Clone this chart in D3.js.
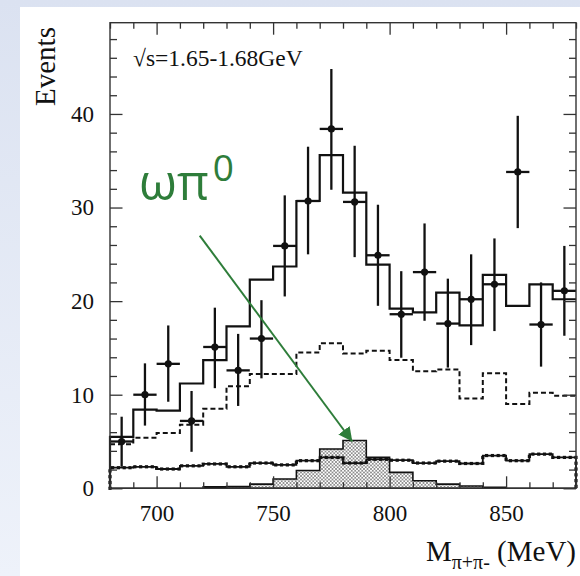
<!DOCTYPE html>
<html><head><meta charset="utf-8">
<script src="https://cdn.jsdelivr.net/npm/d3@7"></script>
<style>html,body{margin:0;padding:0;overflow:hidden;}svg{display:block;}</style>
</head><body>
<svg id="c" width="580" height="576"></svg>
<script>
// ---- data ----
const binStarts = [680,690,700,710,720,730,740,750,760,770,780,790,800,810,820,830,840,850,860,870];
const binWidth = 10;
const dataVals = [5.0,10.0,13.3,7.2,15.1,12.6,16.0,25.9,30.7,38.4,30.6,24.9,18.6,23.1,17.6,20.2,21.8,33.8,17.5,21.1];
const errLow  = [2.3,6.7,9.25,3.9,10.7,8.8,11.75,20.5,25.0,31.9,24.7,19.5,13.95,17.9,12.9,15.3,16.8,27.8,13.0,16.3];
const errHigh = [7.65,13.35,17.4,10.4,19.3,16.5,20.1,31.3,36.5,44.8,36.6,30.3,23.2,28.3,22.4,25.0,26.7,39.8,22.0,25.9];
const totalFit = [5.5,8.4,8.3,11.2,13.7,17.3,22.3,23.7,30.7,35.6,31.6,23.9,19.2,18.8,20.9,17.4,22.8,19.5,21.8,20.2];
const dashedBkg = [4.7,5.4,5.9,6.8,8.5,10.9,12.2,12.2,14.5,15.5,14.4,14.7,13.7,12.5,12.7,9.6,12.3,9.0,10.2,9.9];
const dottedBkg = [2.2,2.3,2.06,2.4,2.6,2.3,2.7,2.5,2.95,3.3,2.7,3.1,3.0,2.7,2.9,2.65,3.5,2.95,3.65,3.3];
const omegaPi0 = [0,0,0,0,0.15,0.2,0.45,1.0,1.9,4.2,5.1,3.3,1.7,0.8,0.45,0.25,0.1,0,0,0];
const xMajorTicks = [700,750,800,850];
const yMajorTicks = [0,10,20,30,40];
const titleText = "\u221As=1.65-1.68GeV";
const yLabel = "Events";
const annotLabel = "\u03C9\u03C0";
const annotSup = "0";
const arrowFrom = [718.5, 27.0];
const arrowTo = [784, 5.0];

// ---- scales ----
const svg = d3.select("#c");
const x = d3.scaleLinear().domain([680,880]).range([110,576]);
const y = d3.scaleLinear().domain([0,49.75]).range([488.3,22.7]);

// background
const defs = svg.append("defs");
const bg = defs.append("linearGradient").attr("id","bg").attr("x1",0).attr("y1",0).attr("x2",0).attr("y2",1);
bg.append("stop").attr("offset","0%").attr("stop-color","#dbe2f1");
bg.append("stop").attr("offset","100%").attr("stop-color","#eef2fa");
svg.append("rect").attr("width",580).attr("height",576).attr("fill","url(#bg)");
svg.append("rect").attr("x",20).attr("y",7).attr("width",560).attr("height",569).attr("fill","#fff");

// hatch pattern
const pat = defs.append("pattern").attr("id","hatch").attr("patternUnits","userSpaceOnUse").attr("width",3.5).attr("height",3.5);
pat.append("rect").attr("width",3.5).attr("height",3.5).attr("fill","#fff");
pat.append("path").attr("d","M0,0L3.5,3.5M3.5,0L0,3.5").attr("stroke","#7a7a7a").attr("stroke-width",0.75);

const edges = binStarts.concat([binStarts[binStarts.length-1]+binWidth]);
function stepPts(vals){ return edges.map((e,i)=>[e, vals[Math.min(i, vals.length-1)]]); }
const stepLine = d3.line().x(d=>x(d[0])).y(d=>y(d[1])).curve(d3.curveStepAfter);

// hatched omega pi0
const area = d3.area().x(d=>x(d[0])).y0(y(0)).y1(d=>y(d[1])).curve(d3.curveStepAfter);
svg.append("path").attr("d",area(stepPts(omegaPi0))).attr("fill","url(#hatch)").attr("stroke","#111").attr("stroke-width",1.6);

// dotted background (line with markers)
const dotPts = [[680,0]].concat(stepPts(dottedBkg)).concat([[880,0]]);
const dotLine = d3.line().x(d=>x(d[0])).y(d=>y(d[1]));
const dotPathPts = [];
dotPts.forEach((p,i)=>{
  if(i>1 && i<dotPts.length-1){ dotPathPts.push([p[0], dotPts[i-1][1]]); }
  dotPathPts.push(p);
});
const dp = svg.append("path").attr("d",dotLine(dotPathPts)).attr("fill","none").attr("stroke","#111").attr("stroke-width",1.8);
const L = dp.node().getTotalLength();
const gDots = svg.append("g");
for(let s=0; s<=L; s+=5.8){
  const pt = dp.node().getPointAtLength(s);
  gDots.append("rect").attr("x",pt.x-1.6).attr("y",pt.y-1.6).attr("width",3.2).attr("height",3.2).attr("fill","#111");
}

// dashed
svg.append("path").attr("d",stepLine(stepPts(dashedBkg))).attr("fill","none").attr("stroke","#111").attr("stroke-width",2).attr("stroke-dasharray","5,3");
// total fit
svg.append("path").attr("d",stepLine([[680,0]].concat(stepPts(totalFit)))).attr("fill","none").attr("stroke","#111").attr("stroke-width",2.2);

// data points
const gD = svg.append("g").attr("stroke","#111").attr("stroke-width",2.3);
binStarts.forEach((b,i)=>{
  const c = b + binWidth/2;
  gD.append("line").attr("x1",x(c)).attr("x2",x(c)).attr("y1",y(errLow[i])).attr("y2",y(errHigh[i]));
  gD.append("line").attr("x1",x(b)).attr("x2",x(b+binWidth)).attr("y1",y(dataVals[i])).attr("y2",y(dataVals[i]));
  gD.append("circle").attr("cx",x(c)).attr("cy",y(dataVals[i])).attr("r",3.6).attr("fill","#111").attr("stroke","none");
});

// frame and ticks
svg.append("rect").attr("x",x(680)).attr("y",y(49.75)).attr("width",x(880)-x(680)).attr("height",y(0)-y(49.75))
  .attr("fill","none").attr("stroke","#333").attr("stroke-width",1.4);
const xMinor = d3.range(680,881,10).filter(v=>!xMajorTicks.includes(v));
const yMinor = d3.range(0,50,2).filter(v=>!yMajorTicks.includes(v));
function styleAxis(g){ g.select(".domain").remove(); g.selectAll("line").attr("stroke","#333").attr("stroke-width",1.3); }
const serif = "'Liberation Serif','Times New Roman',serif";
svg.append("g").attr("transform",`translate(0,${y(0)})`).call(d3.axisBottom(x).tickValues(xMinor).tickSize(-6).tickFormat("")).call(styleAxis);
svg.append("g").attr("transform",`translate(0,${y(0)})`).call(d3.axisBottom(x).tickValues(xMajorTicks).tickSize(-12).tickPadding(16).tickFormat(d3.format("d"))).call(styleAxis)
  .selectAll("text").attr("font-family",serif).attr("font-size",23).attr("fill","#111").attr("dy","0.71em");
svg.append("g").attr("transform",`translate(0,${y(49.75)})`).call(d3.axisTop(x).tickValues(xMinor).tickSize(-6).tickFormat("")).call(styleAxis);
svg.append("g").attr("transform",`translate(0,${y(49.75)})`).call(d3.axisTop(x).tickValues(xMajorTicks).tickSize(-12).tickFormat("")).call(styleAxis);
svg.append("g").attr("transform",`translate(${x(680)},0)`).call(d3.axisLeft(y).tickValues(yMinor).tickSize(-7).tickFormat("")).call(styleAxis);
svg.append("g").attr("transform",`translate(${x(680)},0)`).call(d3.axisLeft(y).tickValues(yMajorTicks).tickSize(-12.5).tickPadding(16).tickFormat(d3.format("d"))).call(styleAxis)
  .selectAll("text").attr("font-family",serif).attr("font-size",23).attr("fill","#111");
svg.append("g").attr("transform",`translate(${x(880)},0)`).call(d3.axisRight(y).tickValues(yMinor).tickSize(-7).tickFormat("")).call(styleAxis);
svg.append("g").attr("transform",`translate(${x(880)},0)`).call(d3.axisRight(y).tickValues(yMajorTicks).tickSize(-12.5).tickFormat("")).call(styleAxis);

// texts
svg.append("text").attr("x",133).attr("y",66).attr("font-family",serif).attr("font-size",23.5).attr("fill","#111").text(titleText);
svg.append("text").attr("transform","translate(55,106) rotate(-90)").attr("font-family",serif).attr("font-size",29).attr("fill","#111").text(yLabel);
const xt = svg.append("text").attr("x",576).attr("y",561).attr("text-anchor","end").attr("font-family",serif).attr("fill","#111");
xt.append("tspan").attr("font-size",29).text("M");
xt.append("tspan").attr("font-size",20).attr("dy",8).text("\u03C0+\u03C0-");
xt.append("tspan").attr("font-size",29).attr("dy",-8).text(" (MeV)");

// annotation
const green = "#2e7d3a";
const at = svg.append("text").attr("x",139).attr("y",200).attr("font-family","'Open Sans',sans-serif").attr("fill",green);
at.append("tspan").attr("font-size",49).text(annotLabel);
at.append("tspan").attr("font-size",37).attr("dy",-19).attr("dx",4).text(annotSup);
const mk = defs.append("marker").attr("id","arr").attr("viewBox","0 0 10 10").attr("refX",10).attr("refY",5)
  .attr("markerWidth",7).attr("markerHeight",7).attr("markerUnits","strokeWidth").attr("orient","auto");
mk.append("path").attr("d","M0,0L10,5L0,10z").attr("fill",green);
svg.append("line").attr("x1",x(arrowFrom[0])).attr("y1",y(arrowFrom[1])).attr("x2",x(arrowTo[0])).attr("y2",y(arrowTo[1]))
  .attr("stroke",green).attr("stroke-width",2).attr("marker-end","url(#arr)");
</script>
</body></html>
